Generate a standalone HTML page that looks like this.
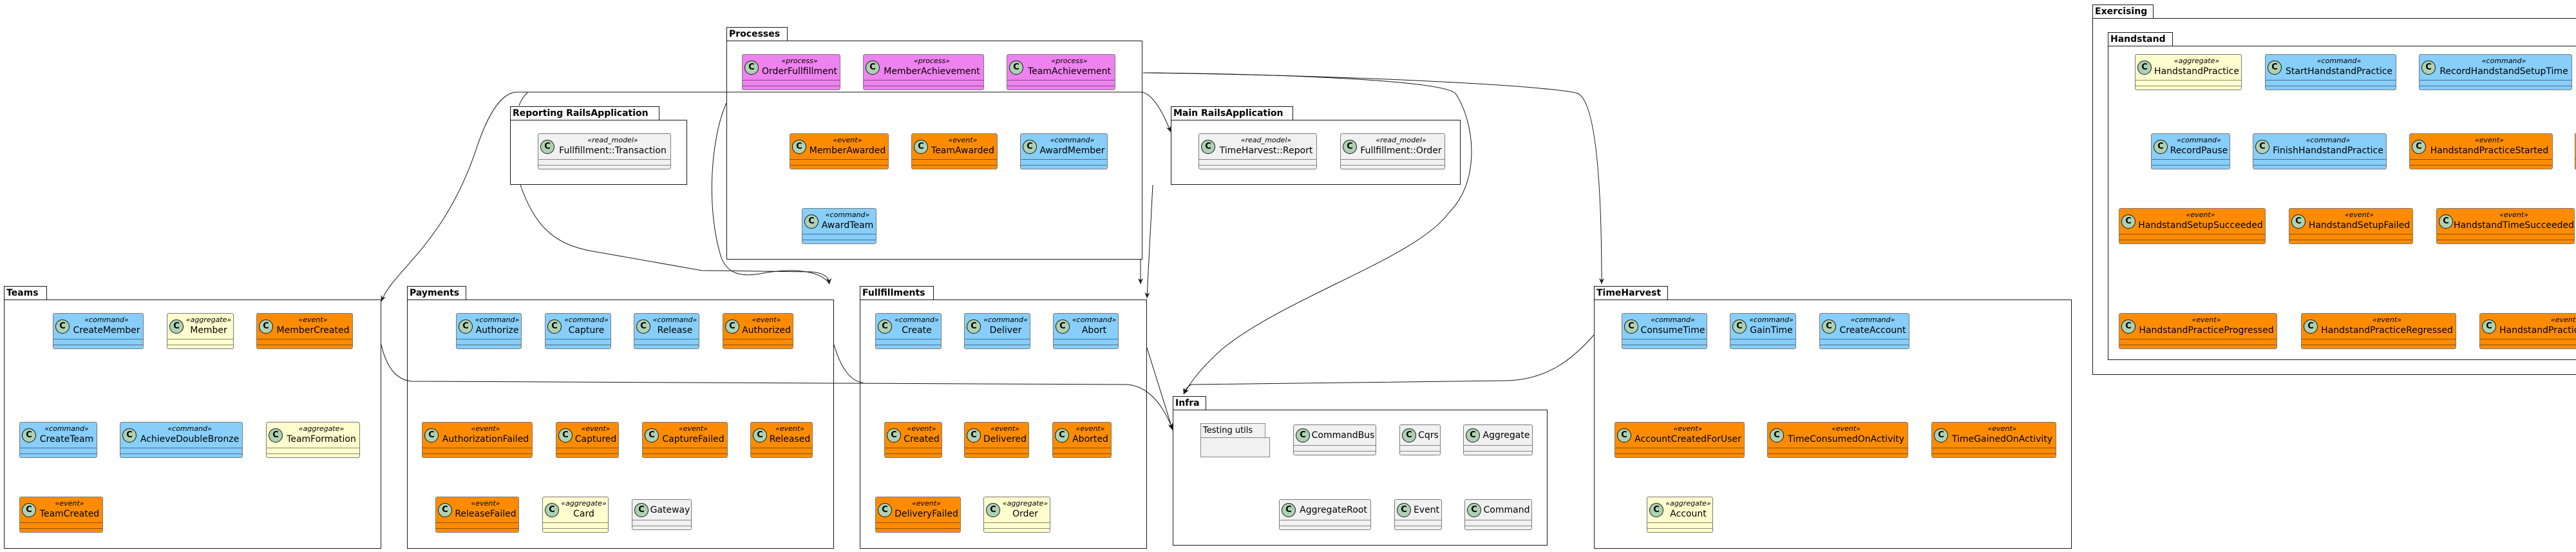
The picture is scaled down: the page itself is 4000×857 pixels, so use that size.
<!DOCTYPE html>
<html><head><meta charset="utf-8">
<style>
html,body{margin:0;padding:0;background:#fff;}
body{width:4000px;height:857px;position:relative;overflow:hidden;font-family:"DejaVu Sans","Liberation Sans",sans-serif;}
.t{position:absolute;height:21px;border:1.5px solid #181818;border-bottom:none;background:#fff;font-weight:bold;font-size:14px;line-height:21px;padding-left:3px;box-sizing:border-box;}
.k{position:absolute;border:1.5px solid #181818;box-sizing:border-box;background:transparent;}
.c{position:absolute;height:56px;border:1px solid #7a7a7a;border-radius:3px;box-sizing:border-box;overflow:hidden;}
.c:before{content:"";position:absolute;left:0;right:0;top:39px;height:8px;border-top:1px solid rgba(0,0,0,.45);border-bottom:1px solid rgba(0,0,0,.45);}
.c i{position:absolute;left:3px;top:9px;width:22px;height:22px;box-sizing:border-box;border-radius:50%;background:#ADD1B2;border:1px solid #181818;font-style:normal;font-weight:bold;font-size:13px;line-height:20px;text-align:center;color:#000;}
.c em{position:absolute;left:26px;right:0;top:3px;text-align:center;font-style:italic;font-size:11px;line-height:14px;white-space:nowrap;}
.c b{position:absolute;left:26px;right:0;top:17px;text-align:center;font-weight:normal;font-size:14px;line-height:18px;white-space:nowrap;}
.c.n{height:48px;}
.c.n:before{top:31px;}
.c.n i{top:5px;}
.c.n b{top:7px;}
.cmd{background:#87CEFA;}
.ev{background:#FF8C00;}
.ag{background:#FEFECE;}
.pr{background:#EE82EE;}
.rm{background:#F1F1F1;}
svg{position:absolute;left:0;top:0;}
</style></head><body>

<div class="t" style="left:1128px;top:42px;width:95px">Processes</div>
<div class="k" style="left:1128px;top:63px;width:646px;height:340px"></div>

<div class="t" style="left:792px;top:165px;width:232px">Reporting RailsApplication</div>
<div class="k" style="left:792px;top:186px;width:275px;height:101px"></div>

<div class="t" style="left:1818px;top:165px;width:190px">Main RailsApplication</div>
<div class="k" style="left:1818px;top:186px;width:450px;height:101px"></div>

<div class="t" style="left:3249px;top:7px;width:95px">Exercising</div>
<div class="k" style="left:3249px;top:28px;width:751px;height:554px;border-right:none"></div>
<div class="t" style="left:3273px;top:50px;width:101px">Handstand</div>
<div class="k" style="left:3273px;top:71px;width:727px;height:488px;border-right:none"></div>

<div class="t" style="left:6px;top:444px;width:67px">Teams</div>
<div class="k" style="left:6px;top:465px;width:586px;height:387px"></div>

<div class="t" style="left:632px;top:444px;width:92px">Payments</div>
<div class="k" style="left:632px;top:465px;width:663px;height:387px"></div>

<div class="t" style="left:1335px;top:444px;width:115px">Fullfillments</div>
<div class="k" style="left:1335px;top:465px;width:446px;height:387px"></div>

<div class="t" style="left:1821px;top:615px;width:52px">Infra</div>
<div class="k" style="left:1821px;top:636px;width:582px;height:211px"></div>

<div class="t" style="left:2475px;top:444px;width:115px">TimeHarvest</div>
<div class="k" style="left:2475px;top:465px;width:742px;height:387px"></div>

<div style="position:absolute;left:1864px;top:657px;width:101px;height:22px;border:1px solid #888;border-bottom:none;background:#F1F1F1;font-size:13px;line-height:22px;padding-left:3px;box-sizing:border-box;">Testing utils</div>
<div style="position:absolute;left:1864px;top:679px;width:108px;height:31px;border:1px solid #888;background:#F1F1F1;box-sizing:border-box;"></div>

<div class="c pr" style="left:1152px;top:84px;width:153px"><i>C</i><em>«process»</em><b>OrderFullfillment</b></div>
<div class="c pr" style="left:1340px;top:84px;width:188px"><i>C</i><em>«process»</em><b>MemberAchievement</b></div>
<div class="c pr" style="left:1563px;top:84px;width:169px"><i>C</i><em>«process»</em><b>TeamAchievement</b></div>
<div class="c ev" style="left:1226px;top:207px;width:154px"><i>C</i><em>«event»</em><b>MemberAwarded</b></div>
<div class="c ev" style="left:1415px;top:207px;width:134px"><i>C</i><em>«event»</em><b>TeamAwarded</b></div>
<div class="c cmd" style="left:1584px;top:207px;width:136px"><i>C</i><em>«command»</em><b>AwardMember</b></div>
<div class="c cmd" style="left:1245px;top:323px;width:116px"><i>C</i><em>«command»</em><b>AwardTeam</b></div>

<div class="c rm" style="left:835px;top:207px;width:207px"><i>C</i><em>«read_model»</em><b>Fullfillment::Transaction</b></div>
<div class="c rm" style="left:1861px;top:207px;width:184px"><i>C</i><em>«read_model»</em><b>TimeHarvest::Report</b></div>
<div class="c rm" style="left:2081px;top:207px;width:163px"><i>C</i><em>«read_model»</em><b>Fullfillment::Order</b></div>

<div class="c ag" style="left:3315px;top:84px;width:166px"><i>C</i><em>«aggregate»</em><b>HandstandPractice</b></div>
<div class="c cmd" style="left:3517px;top:84px;width:204px"><i>C</i><em>«command»</em><b>StartHandstandPractice</b></div>
<div class="c cmd" style="left:3756px;top:84px;width:238px"><i>C</i><em>«command»</em><b>RecordHandstandSetupTime</b></div>
<div class="c cmd" style="left:3340px;top:207px;width:123px"><i>C</i><em>«command»</em><b>RecordPause</b></div>
<div class="c cmd" style="left:3498px;top:207px;width:208px"><i>C</i><em>«command»</em><b>FinishHandstandPractice</b></div>
<div class="c ev" style="left:3741px;top:207px;width:223px"><i>C</i><em>«event»</em><b>HandstandPracticeStarted</b></div>
<div class="c ev" style="left:3998px;top:207px;width:2px;border-right:none"></div>
<div class="c ev" style="left:3290px;top:323px;width:228px"><i>C</i><em>«event»</em><b>HandstandSetupSucceeded</b></div>
<div class="c ev" style="left:3554px;top:323px;width:193px"><i>C</i><em>«event»</em><b>HandstandSetupFailed</b></div>
<div class="c ev" style="left:3783px;top:323px;width:215px"><i>C</i><em>«event»</em><b>HandstandTimeSucceeded</b></div>
<div class="c ev" style="left:3290px;top:486px;width:246px"><i>C</i><em>«event»</em><b>HandstandPracticeProgressed</b></div>
<div class="c ev" style="left:3573px;top:486px;width:241px"><i>C</i><em>«event»</em><b>HandstandPracticeRegressed</b></div>
<div class="c ev" style="left:3850px;top:486px;width:150px;border-right:none;border-radius:3px 0 0 3px"><i>C</i><em style="right:-90px">«event»</em><b style="right:auto;left:30px">HandstandPractic</b></div>

<div class="c cmd" style="left:82px;top:486px;width:141px"><i>C</i><em>«command»</em><b>CreateMember</b></div>
<div class="c ag" style="left:259px;top:486px;width:104px"><i>C</i><em>«aggregate»</em><b>Member</b></div>
<div class="c ev" style="left:398px;top:486px;width:150px"><i>C</i><em>«event»</em><b>MemberCreated</b></div>
<div class="c cmd" style="left:30px;top:655px;width:121px"><i>C</i><em>«command»</em><b>CreateTeam</b></div>
<div class="c cmd" style="left:186px;top:655px;width:191px"><i>C</i><em>«command»</em><b>AchieveDoubleBronze</b></div>
<div class="c ag" style="left:413px;top:655px;width:146px"><i>C</i><em>«aggregate»</em><b>TeamFormation</b></div>
<div class="c ev" style="left:30px;top:771px;width:130px"><i>C</i><em>«event»</em><b>TeamCreated</b></div>

<div class="c cmd" style="left:708px;top:486px;width:102px"><i>C</i><em>«command»</em><b>Authorize</b></div>
<div class="c cmd" style="left:846px;top:486px;width:103px"><i>C</i><em>«command»</em><b>Capture</b></div>
<div class="c cmd" style="left:984px;top:486px;width:102px"><i>C</i><em>«command»</em><b>Release</b></div>
<div class="c ev" style="left:1122px;top:486px;width:110px"><i>C</i><em>«event»</em><b>Authorized</b></div>
<div class="c ev" style="left:655px;top:655px;width:172px"><i>C</i><em>«event»</em><b>AuthorizationFailed</b></div>
<div class="c ev" style="left:863px;top:655px;width:98px"><i>C</i><em>«event»</em><b>Captured</b></div>
<div class="c ev" style="left:997px;top:655px;width:133px"><i>C</i><em>«event»</em><b>CaptureFailed</b></div>
<div class="c ev" style="left:1165px;top:655px;width:97px"><i>C</i><em>«event»</em><b>Released</b></div>
<div class="c ev" style="left:676px;top:771px;width:130px"><i>C</i><em>«event»</em><b>ReleaseFailed</b></div>
<div class="c ag" style="left:842px;top:771px;width:103px"><i>C</i><em>«aggregate»</em><b>Card</b></div>
<div class="c rm n" style="left:981px;top:775px;width:93px"><i>C</i><b>Gateway</b></div>

<div class="c cmd" style="left:1359px;top:486px;width:103px"><i>C</i><em>«command»</em><b>Create</b></div>
<div class="c cmd" style="left:1497px;top:486px;width:103px"><i>C</i><em>«command»</em><b>Deliver</b></div>
<div class="c cmd" style="left:1635px;top:486px;width:102px"><i>C</i><em>«command»</em><b>Abort</b></div>
<div class="c ev" style="left:1373px;top:655px;width:90px"><i>C</i><em>«event»</em><b>Created</b></div>
<div class="c ev" style="left:1497px;top:655px;width:101px"><i>C</i><em>«event»</em><b>Delivered</b></div>
<div class="c ev" style="left:1634px;top:655px;width:92px"><i>C</i><em>«event»</em><b>Aborted</b></div>
<div class="c ev" style="left:1359px;top:771px;width:133px"><i>C</i><em>«event»</em><b>DeliveryFailed</b></div>
<div class="c ag" style="left:1527px;top:771px;width:104px"><i>C</i><em>«aggregate»</em><b>Order</b></div>

<div class="c rm n" style="left:2008px;top:659px;width:129px"><i>C</i><b>CommandBus</b></div>
<div class="c rm n" style="left:2173px;top:659px;width:64px"><i>C</i><b>Cqrs</b></div>
<div class="c rm n" style="left:2272px;top:659px;width:108px"><i>C</i><b>Aggregate</b></div>
<div class="c rm n" style="left:1986px;top:775px;width:143px"><i>C</i><b>AggregateRoot</b></div>
<div class="c rm n" style="left:2165px;top:775px;width:74px"><i>C</i><b>Event</b></div>
<div class="c rm n" style="left:2274px;top:775px;width:105px"><i>C</i><b>Command</b></div>

<div class="c cmd" style="left:2518px;top:486px;width:133px"><i>C</i><em>«command»</em><b>ConsumeTime</b></div>
<div class="c cmd" style="left:2686px;top:486px;width:103px"><i>C</i><em>«command»</em><b>GainTime</b></div>
<div class="c cmd" style="left:2825px;top:486px;width:140px"><i>C</i><em>«command»</em><b>CreateAccount</b></div>
<div class="c ev" style="left:2507px;top:655px;width:202px"><i>C</i><em>«event»</em><b>AccountCreatedForUser</b></div>
<div class="c ev" style="left:2744px;top:655px;width:219px"><i>C</i><em>«event»</em><b>TimeConsumedOnActivity</b></div>
<div class="c ev" style="left:2999px;top:655px;width:194px"><i>C</i><em>«event»</em><b>TimeGainedOnActivity</b></div>
<div class="c ag" style="left:2557px;top:771px;width:103px"><i>C</i><em>«aggregate»</em><b>Account</b></div>

<svg width="4000" height="857" viewBox="0 0 4000 857">
<defs><marker id="a" markerWidth="10" markerHeight="10" refX="9" refY="5" orient="auto" markerUnits="userSpaceOnUse"><path d="M0,1 L9,5 L0,9 L3,5 Z" fill="#181818"/></marker></defs>
<g fill="none" stroke="#181818" stroke-width="1">
<path d="M1128,143 L800,143 C780,146 760,170 740,230 C690,380 610,420 592,468" marker-end="url(#a)"/>
<path d="M1128,143 L1773,143 C1792,146 1808,180 1818,205" marker-end="url(#a)"/>
<path d="M820,143 C812,150 808,158 806,164"/>
<path d="M808,287 C830,350 860,380 920,390 L1090,420 L1260,422 C1280,424 1287,430 1288,441" marker-end="url(#a)"/>
<path d="M1128,160 C1105,210 1095,320 1120,400 C1130,425 1150,430 1180,425 C1230,415 1275,420 1288,441"/>
<path d="M1790,287 C1788,330 1784,400 1781,463" marker-end="url(#a)"/>
<path d="M1771,403 L1771,441" marker-end="url(#a)"/>
<path d="M1775,113 C2000,115 2240,125 2260,145 C2290,190 2300,280 2250,330 C2200,400 2000,460 1900,540 C1860,575 1845,600 1838,612" marker-end="url(#a)"/>
<path d="M1775,113 C2150,118 2420,135 2450,145 C2480,160 2487,300 2487,441" marker-end="url(#a)"/>
<path d="M592,535 C600,570 615,590 640,592 L1750,597 C1790,600 1810,640 1821,666" marker-end="url(#a)"/>
<path d="M1295,535 C1305,570 1320,592 1340,594"/>
<path d="M1781,540 L1821,668" marker-end="url(#a)"/>
<path d="M2475,520 C2440,560 2400,590 2338,591 L1850,597 C1843,600 1840,606 1838,612" marker-end="url(#a)"/>
</g>
</svg>
</body></html>
